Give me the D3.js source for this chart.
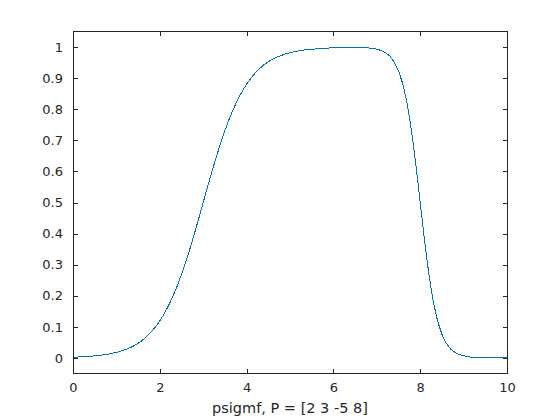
<!DOCTYPE html>
<html>
<head>
<meta charset="utf-8">
<script src="https://cdn.jsdelivr.net/npm/d3@7"></script>
<style>
  body { margin: 0; background: #fff; }
  svg { display: block; }
</style>
</head>
<body>
<div id="chart"></div>
<script>
// x samples (0:0.1:10) and the curve values
const xValues = d3.range(0, 101).map((i) => i / 10);
const yValues = [
  0.002, 0.003, 0.004, 0.004, 0.005, 0.007, 0.008, 0.010, 0.012, 0.015,
  0.018, 0.022, 0.027, 0.032, 0.039, 0.047, 0.057, 0.069, 0.083, 0.100,
  0.119, 0.142, 0.168, 0.198, 0.231, 0.269, 0.310, 0.354, 0.401, 0.450,
  0.500, 0.550, 0.599, 0.646, 0.690, 0.731, 0.769, 0.802, 0.832, 0.858,
  0.881, 0.900, 0.917, 0.931, 0.943, 0.953, 0.961, 0.968, 0.973, 0.978,
  0.982, 0.985, 0.988, 0.990, 0.992, 0.993, 0.994, 0.995, 0.996, 0.997,
  0.997, 0.998, 0.998, 0.999, 0.999, 0.999, 0.998, 0.998, 0.997, 0.996,
  0.993, 0.989, 0.982, 0.971, 0.952, 0.924, 0.881, 0.818, 0.731, 0.622,
  0.500, 0.378, 0.269, 0.182, 0.119, 0.076, 0.047, 0.029, 0.018, 0.011,
  0.007, 0.004, 0.002, 0.002, 0.001, 0.001, 0.000, 0.000, 0.000, 0.000,
  0.000
];
const xTicks = [0, 2, 4, 6, 8, 10];
const yTicks = [0, 0.1, 0.2, 0.3, 0.4, 0.5, 0.6, 0.7, 0.8, 0.9, 1];
const xLabel = "psigmf, P = [2 3 -5 8]";

const width = 560;
const height = 420;
const margin = { top: 31.5, right: 53, bottom: 46.5, left: 73 };
const axisColor = "#262626";
const fontFamily = "'DejaVu Sans', sans-serif";
const tickLen = 4.5;

const svg = d3.select("#chart").append("svg").attr("width", width).attr("height", height);

const x = d3.scaleLinear().domain([0, 10]).range([margin.left, width - margin.right]);
const y = d3.scaleLinear().domain([-0.05, 1.05]).range([height - margin.bottom, margin.top]);

const x0 = x.range()[0], x1 = x.range()[1];
const y0 = y.range()[0], y1 = y.range()[1];

// Curve (aliased like the MATLAB export)
const line = d3.line().x((d, i) => x(xValues[i])).y((d) => y(d));
svg.append("path")
  .datum(yValues)
  .attr("fill", "none")
  .attr("stroke", "#0072BD")
  .attr("stroke-width", 1)
  .attr("shape-rendering", "crispEdges")
  .attr("d", line);

// Axes (ticks inside, box on)
const fmt = (d) => d3.format("~g")(d);

function styleAxis(g) {
  g.select(".domain").remove();
  g.attr("font-family", fontFamily).attr("font-size", 13);
  g.selectAll("line").attr("stroke", axisColor).attr("shape-rendering", "crispEdges");
  g.selectAll("text").attr("fill", axisColor);
}

svg.append("g")
  .attr("transform", `translate(0,${y0})`)
  .call(d3.axisBottom(x).tickValues(xTicks).tickSizeInner(-tickLen).tickSizeOuter(0).tickPadding(9).tickFormat(fmt))
  .call(styleAxis);

svg.append("g")
  .attr("transform", `translate(0,${y1})`)
  .call(d3.axisTop(x).tickValues(xTicks).tickSizeInner(-tickLen).tickSizeOuter(0).tickFormat(""))
  .call(styleAxis);

svg.append("g")
  .attr("transform", `translate(${x0},0)`)
  .call(d3.axisLeft(y).tickValues(yTicks).tickSizeInner(-tickLen).tickSizeOuter(0).tickPadding(10).tickFormat(fmt))
  .call(styleAxis);

svg.append("g")
  .attr("transform", `translate(${x1},0)`)
  .call(d3.axisRight(y).tickValues(yTicks).tickSizeInner(-tickLen).tickSizeOuter(0).tickFormat(""))
  .call(styleAxis);

svg.append("rect")
  .attr("x", x0)
  .attr("y", y1)
  .attr("width", x1 - x0)
  .attr("height", y0 - y1)
  .attr("fill", "none")
  .attr("stroke", axisColor)
  .attr("stroke-width", 1)
  .attr("shape-rendering", "crispEdges");

svg.append("text")
  .attr("x", (x0 + x1) / 2)
  .attr("y", 413)
  .attr("text-anchor", "middle")
  .attr("fill", axisColor)
  .attr("font-family", fontFamily)
  .attr("font-size", 14.5)
  .text(xLabel);
</script>
</body>
</html>
